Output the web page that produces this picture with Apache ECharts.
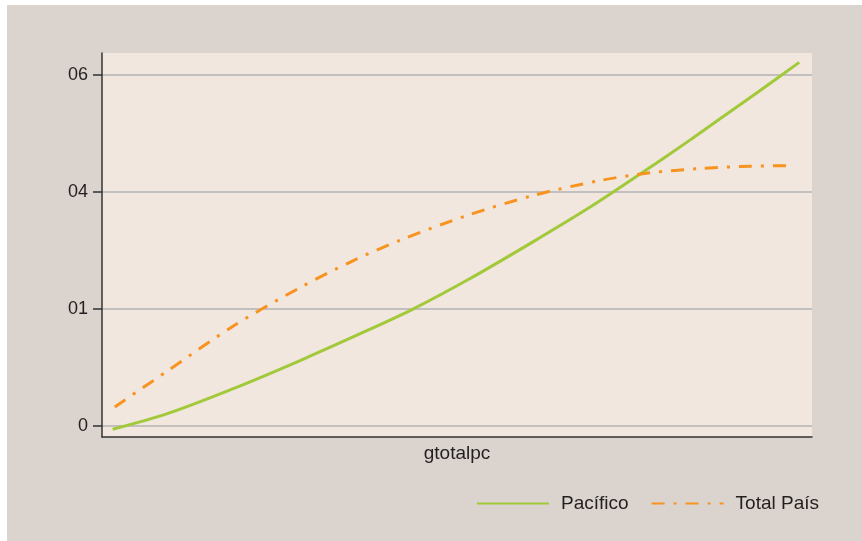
<!DOCTYPE html>
<html>
<head>
<meta charset="utf-8">
<script src="https://cdn.jsdelivr.net/npm/echarts@6/dist/echarts.min.js"></script>
<style>
html,body{margin:0;padding:0;background:#ffffff;width:862px;height:541px;overflow:hidden;}
#chart{position:absolute;left:7px;top:5px;width:855px;height:536px;}
</style>
</head>
<body>
<div id="chart"></div>
<script>
// y tick positions and their printed labels
var yTickValues = [0, 1, 2, 3];
var yTickLabels = ['0', '01', '04', '06'];
var xAxisName = 'gtotalpc';
var seriesNames = ['Pacífico', 'Total País'];

// Pacífico curve (x along gtotalpc, 0-100 scale)
var pacificoX = [1.5, 9.2, 18.5, 27.9, 37.3, 43.8, 51.4, 60.7, 68.7, 75.8, 82.8, 87.4, 92.3, 98.2];
var pacificoY = [-0.028, 0.106, 0.32, 0.56, 0.815, 1.0, 1.246, 1.575, 1.87, 2.155, 2.445, 2.643, 2.852, 3.11];

// Total País curve
var totalX = [1.8, 9.2, 18.5, 27.9, 34.9, 42.0, 51.4, 60.7, 70.1, 77.2, 84.2, 91.3, 97.2];
var totalY = [0.163, 0.47, 0.855, 1.184, 1.40, 1.589, 1.80, 1.971, 2.099, 2.165, 2.202, 2.222, 2.227];

function pairs(xs, ys) { return xs.map(function (x, i) { return [x, ys[i]]; }); }

var chart = echarts.init(document.getElementById('chart'));
var txt = '#231f20';
chart.setOption({
  backgroundColor: '#dbd3ce',
  animation: false,
  textStyle: { fontFamily: 'Liberation Sans, Arial, sans-serif', color: txt },
  grid: {
    left: 95, right: 50, top: 48, bottom: 104,
    show: true, backgroundColor: '#f1e7de', borderWidth: 0, containLabel: false
  },
  legend: {
    left: 464, top: 484,
    itemWidth: 72, itemHeight: 14, itemGap: 22,
    itemStyle: { opacity: 0 },
    textStyle: { fontSize: 19, color: txt, padding: [0, 0, 0, 7] },
    data: seriesNames
  },
  xAxis: {
    type: 'value', min: 0, max: 100,
    name: xAxisName, nameLocation: 'middle', nameGap: 7,
    nameTextStyle: { fontSize: 19, color: txt, verticalAlign: 'top' },
    axisLine: { show: true, onZero: false, lineStyle: { color: '#333333', width: 1.5 } },
    axisTick: { show: false }, axisLabel: { show: false }, splitLine: { show: false }
  },
  yAxis: {
    type: 'value', min: -0.094, max: 3.19,
    axisLine: { show: true, onZero: false, lineStyle: { color: '#333333', width: 1.5 } },
    axisTick: { show: true, length: 9, customValues: yTickValues, lineStyle: { color: '#333333', width: 1.5 } },
    axisLabel: {
      show: true, customValues: yTickValues, margin: 14, fontSize: 18, color: txt,
      formatter: function (v) { var i = yTickValues.indexOf(Math.round(v)); return i >= 0 ? yTickLabels[i] : ''; }
    },
    splitLine: { show: true, lineStyle: { color: '#c2c0bf', width: 2 } }
  },
  series: [
    {
      name: seriesNames[0], type: 'line', smooth: 0.3, symbol: 'none',
      data: pairs(pacificoX, pacificoY),
      lineStyle: { color: '#a2c93a', width: 3 },
      itemStyle: { color: '#a2c93a' }
    },
    {
      name: seriesNames[1], type: 'line', smooth: 0.3, symbol: 'none',
      data: pairs(totalX, totalY),
      lineStyle: { color: '#f7931e', width: 3, type: [13, 9, 3, 9], cap: 'butt' },
      itemStyle: { color: '#f7931e' }
    }
  ]
});
</script>
</body>
</html>
